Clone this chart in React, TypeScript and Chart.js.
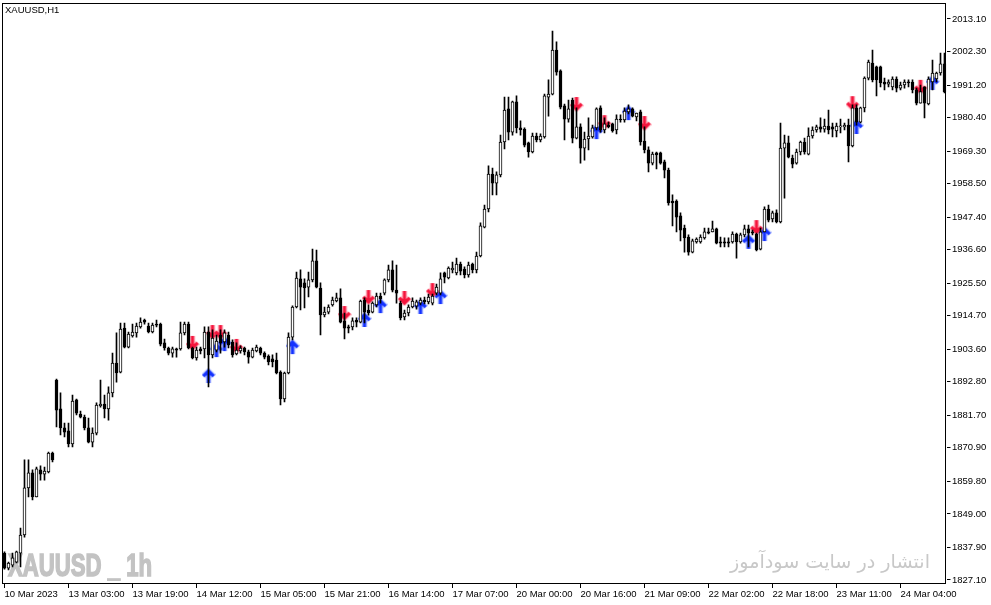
import React, { useEffect, useRef } from 'react';
import { Chart, registerables } from 'chart.js';

Chart.register(...registerables);

// Hourly XAUUSD candles (bar 0 .. 235)
const opens = [
  1836.0, 1831.0, 1832.0, 1833.0, 1836.0, 1842.0, 1857.6, 1862.6, 1854.6, 1863.6,
  1862.2, 1862.9, 1869.2, 1893.4, 1883.8, 1877.5, 1876.5, 1872.2, 1886.8, 1882.1,
  1881.1, 1877.5, 1872.8, 1875.8, 1884.8, 1885.4, 1883.8, 1889.1, 1899.0, 1896.0,
  1910.6, 1904.3, 1908.0, 1909.0, 1911.0, 1913.3, 1911.3, 1909.3, 1911.9, 1911.9,
  1905.7, 1904.0, 1902.3, 1903.7, 1903.7, 1909.0, 1911.9, 1904.0, 1900.7, 1903.7,
  1903.7, 1909.3, 1901.7, 1903.3, 1908.3, 1906.0, 1908.3, 1906.0, 1902.0, 1903.0,
  1904.0, 1902.7, 1901.0, 1903.0, 1904.0, 1902.3, 1901.3, 1900.4, 1900.0, 1896.0,
  1887.1, 1895.7, 1907.6, 1917.6, 1926.9, 1925.6, 1924.2, 1926.6, 1932.9, 1923.9,
  1915.0, 1915.9, 1918.3, 1919.6, 1920.6, 1913.0, 1911.0, 1911.0, 1913.3, 1912.6,
  1919.9, 1916.6, 1915.9, 1918.3, 1921.2, 1922.2, 1926.6, 1929.9, 1923.2, 1918.9,
  1914.3, 1915.6, 1917.6, 1917.9, 1918.9, 1919.9, 1919.3, 1918.9, 1922.2, 1922.2,
  1928.9, 1927.2, 1929.9, 1928.9, 1931.8, 1930.2, 1928.2, 1931.8, 1929.9, 1934.5,
  1944.1, 1950.1, 1961.7, 1958.7, 1961.4, 1972.3, 1983.3, 1975.6, 1985.6, 1977.0,
  1976.6, 1972.0, 1969.0, 1974.3, 1973.0, 1974.0, 1987.2, 1988.2, 2002.8, 1995.9,
  1984.3, 1979.9, 1986.2, 1973.6, 1977.3, 1970.3, 1973.3, 1974.0, 1977.0, 1983.6,
  1976.3, 1977.9, 1978.3, 1976.3, 1979.9, 1979.6, 1982.3, 1983.3, 1980.6, 1982.3,
  1972.6, 1969.7, 1965.3, 1968.7, 1968.7, 1965.7, 1963.0, 1952.7, 1952.7, 1947.8,
  1943.8, 1940.8, 1935.8, 1939.2, 1939.2, 1940.5, 1942.5, 1942.5, 1943.5, 1939.2,
  1939.2, 1939.2, 1939.2, 1941.8, 1939.2, 1941.5, 1943.5, 1942.5, 1941.8, 1936.8,
  1942.5, 1950.1, 1946.8, 1948.8, 1945.8, 1970.3, 1972.0, 1967.0, 1965.3, 1969.0,
  1972.3, 1968.3, 1974.3, 1976.3, 1977.3, 1976.6, 1977.6, 1977.3, 1976.0, 1977.3,
  1977.3, 1977.9, 1971.0, 1983.6, 1978.9, 1983.6, 1993.5, 1998.5, 1997.2, 1997.2,
  1992.2, 1991.5, 1990.6, 1993.2, 1990.2, 1991.2, 1992.2, 1992.2, 1989.6, 1985.2,
  1990.6, 1984.9, 1992.2, 1993.2, 1995.2, 1998.2,
];
const highs = [
  1836.4, 1833.0, 1836.0, 1836.7, 1844.3, 1866.9, 1866.9, 1863.6, 1864.5, 1864.9,
  1864.5, 1869.5, 1869.5, 1893.7, 1889.1, 1879.1, 1879.1, 1888.4, 1887.1, 1883.1,
  1881.8, 1880.8, 1877.5, 1885.8, 1893.4, 1888.4, 1891.1, 1902.3, 1909.0, 1912.3,
  1912.3, 1909.3, 1911.9, 1912.3, 1914.0, 1913.6, 1912.3, 1912.3, 1913.3, 1912.3,
  1907.0, 1904.3, 1904.3, 1904.0, 1912.6, 1912.6, 1912.6, 1904.3, 1904.3, 1904.3,
  1911.0, 1911.0, 1910.0, 1908.3, 1910.0, 1910.0, 1909.3, 1906.7, 1905.7, 1904.7,
  1904.3, 1903.3, 1904.0, 1905.0, 1904.3, 1902.7, 1901.7, 1901.7, 1902.3, 1896.4,
  1896.0, 1909.0, 1918.0, 1929.2, 1929.9, 1926.9, 1929.2, 1936.8, 1936.5, 1925.6,
  1917.6, 1918.3, 1920.9, 1922.2, 1923.6, 1915.6, 1911.6, 1914.0, 1914.0, 1919.9,
  1920.6, 1918.3, 1919.3, 1922.2, 1922.2, 1926.9, 1931.5, 1932.9, 1931.5, 1919.6,
  1916.6, 1918.3, 1920.6, 1919.9, 1920.6, 1920.9, 1921.9, 1921.9, 1925.2, 1928.9,
  1929.2, 1930.9, 1932.5, 1933.8, 1932.5, 1930.9, 1932.5, 1932.2, 1935.8, 1945.5,
  1951.4, 1964.4, 1963.7, 1962.4, 1974.6, 1987.2, 1987.2, 1985.9, 1987.6, 1979.3,
  1977.0, 1972.3, 1975.3, 1975.3, 1975.0, 1988.2, 1992.9, 2009.1, 2005.5, 1996.2,
  1984.9, 1986.2, 1986.9, 1983.6, 1978.3, 1975.6, 1980.3, 1977.9, 1983.6, 1984.3,
  1980.3, 1978.9, 1978.6, 1981.3, 1981.3, 1983.6, 1984.6, 1983.6, 1981.9, 1982.9,
  1977.3, 1970.7, 1969.0, 1969.0, 1969.0, 1966.3, 1963.7, 1954.8, 1953.1, 1948.8,
  1944.8, 1941.5, 1940.1, 1940.5, 1941.5, 1943.8, 1943.8, 1946.1, 1943.8, 1940.8,
  1940.5, 1940.5, 1942.5, 1942.1, 1942.1, 1944.8, 1944.8, 1943.1, 1942.1, 1943.8,
  1950.8, 1951.4, 1949.4, 1949.8, 1978.6, 1974.6, 1974.3, 1968.0, 1970.0, 1972.6,
  1973.6, 1977.0, 1977.3, 1977.9, 1980.3, 1979.9, 1982.9, 1978.6, 1978.6, 1979.9,
  1978.6, 1979.9, 1984.6, 1984.6, 1983.9, 1993.9, 1999.5, 2002.8, 1997.5, 1997.5,
  1993.5, 1992.9, 1993.9, 1993.9, 1992.2, 1992.9, 1992.9, 1992.9, 1990.2, 1991.2,
  1990.6, 1993.9, 1999.5, 1995.5, 2001.8, 2001.8,
];
const lows = [
  1830.7, 1830.4, 1831.4, 1832.7, 1831.4, 1841.3, 1854.6, 1853.6, 1854.6, 1860.2,
  1860.2, 1862.6, 1866.2, 1877.8, 1875.2, 1874.5, 1871.2, 1871.2, 1881.8, 1880.8,
  1876.8, 1872.5, 1871.2, 1875.2, 1884.4, 1880.8, 1880.1, 1887.8, 1892.7, 1895.7,
  1904.0, 1904.0, 1907.6, 1907.6, 1910.6, 1911.9, 1909.0, 1909.0, 1911.0, 1904.7,
  1903.3, 1901.7, 1901.0, 1901.0, 1903.3, 1908.3, 1903.7, 1900.4, 1900.0, 1902.0,
  1900.7, 1891.1, 1900.7, 1902.7, 1902.3, 1904.3, 1904.0, 1901.0, 1901.7, 1902.3,
  1901.7, 1899.0, 1900.7, 1902.7, 1901.7, 1900.4, 1898.4, 1897.7, 1895.4, 1885.1,
  1886.1, 1895.4, 1906.7, 1917.3, 1916.6, 1917.3, 1920.9, 1925.9, 1923.9, 1908.3,
  1914.3, 1915.3, 1917.9, 1919.3, 1912.3, 1907.0, 1909.0, 1910.0, 1911.0, 1912.3,
  1912.3, 1914.9, 1915.6, 1917.6, 1918.9, 1921.6, 1925.9, 1922.6, 1918.9, 1913.3,
  1913.3, 1914.6, 1917.3, 1916.9, 1918.3, 1918.6, 1918.6, 1918.3, 1921.6, 1921.6,
  1925.6, 1926.9, 1928.9, 1928.2, 1928.2, 1927.2, 1927.5, 1928.9, 1928.9, 1934.2,
  1943.8, 1949.1, 1954.8, 1954.8, 1960.7, 1970.0, 1973.0, 1974.6, 1975.3, 1974.6,
  1970.7, 1967.3, 1968.7, 1972.3, 1972.3, 1973.6, 1980.9, 1987.9, 1994.5, 1983.3,
  1973.0, 1978.9, 1972.0, 1973.3, 1965.3, 1966.3, 1969.7, 1973.6, 1976.3, 1975.6,
  1975.3, 1977.0, 1975.6, 1975.0, 1978.9, 1978.9, 1981.6, 1980.6, 1979.3, 1971.3,
  1968.7, 1962.4, 1964.7, 1963.4, 1965.0, 1960.4, 1951.4, 1944.5, 1942.5, 1939.5,
  1935.8, 1934.8, 1935.5, 1938.8, 1938.8, 1940.1, 1941.8, 1942.5, 1938.5, 1937.5,
  1937.5, 1937.5, 1938.8, 1933.8, 1938.8, 1940.8, 1937.5, 1941.5, 1936.2, 1936.5,
  1942.5, 1945.8, 1945.8, 1945.5, 1945.5, 1953.7, 1967.0, 1963.7, 1965.0, 1968.0,
  1968.3, 1968.0, 1973.6, 1975.6, 1975.6, 1975.6, 1975.0, 1974.0, 1974.0, 1975.3,
  1976.3, 1965.7, 1970.7, 1977.9, 1978.6, 1982.3, 1992.9, 1992.2, 1987.6, 1990.6,
  1989.6, 1990.6, 1989.6, 1988.9, 1989.6, 1990.2, 1990.6, 1988.6, 1984.6, 1985.2,
  1980.3, 1984.6, 1989.6, 1992.2, 1994.5, 1988.6,
];
const closes = [
  1831.0, 1832.7, 1834.4, 1836.4, 1842.0, 1857.6, 1862.6, 1854.6, 1863.9, 1862.2,
  1863.2, 1869.2, 1866.9, 1883.4, 1877.5, 1876.1, 1872.2, 1886.4, 1882.4, 1881.1,
  1877.5, 1872.8, 1875.8, 1885.1, 1885.4, 1883.8, 1889.1, 1899.0, 1895.7, 1910.3,
  1904.3, 1908.6, 1909.3, 1911.3, 1912.6, 1912.6, 1909.3, 1911.6, 1911.6, 1905.3,
  1904.0, 1902.3, 1903.7, 1903.3, 1909.0, 1911.9, 1904.0, 1900.7, 1903.3, 1903.0,
  1909.3, 1901.7, 1907.3, 1906.3, 1905.7, 1909.0, 1905.0, 1901.7, 1903.3, 1904.0,
  1902.7, 1901.0, 1903.3, 1904.3, 1902.3, 1901.0, 1899.4, 1899.4, 1895.7, 1887.1,
  1895.7, 1907.6, 1917.6, 1927.2, 1924.2, 1923.9, 1926.6, 1932.9, 1924.2, 1915.0,
  1915.9, 1917.6, 1919.9, 1920.6, 1912.6, 1910.6, 1910.6, 1913.0, 1912.6, 1919.6,
  1915.9, 1915.6, 1918.9, 1921.2, 1920.3, 1926.6, 1929.9, 1923.2, 1922.2, 1914.0,
  1915.6, 1917.6, 1919.6, 1919.3, 1919.9, 1919.3, 1920.9, 1921.2, 1924.2, 1926.9,
  1927.5, 1930.5, 1930.5, 1931.8, 1929.5, 1928.2, 1931.5, 1929.9, 1934.5, 1944.5,
  1950.1, 1961.7, 1958.7, 1961.4, 1972.3, 1982.9, 1975.6, 1985.6, 1977.0, 1976.3,
  1971.3, 1969.0, 1974.3, 1973.0, 1974.3, 1987.6, 1988.2, 2002.8, 1995.5, 1983.9,
  1979.9, 1983.3, 1973.6, 1977.3, 1970.3, 1973.3, 1974.3, 1977.0, 1983.3, 1976.3,
  1978.3, 1977.3, 1976.0, 1979.9, 1979.6, 1982.6, 1983.3, 1980.9, 1981.9, 1972.3,
  1969.7, 1965.3, 1968.3, 1968.0, 1965.3, 1963.0, 1952.1, 1952.1, 1947.4, 1943.1,
  1940.5, 1935.8, 1939.5, 1940.1, 1940.8, 1942.5, 1942.1, 1943.5, 1938.8, 1938.8,
  1938.8, 1938.8, 1941.8, 1939.2, 1941.5, 1943.5, 1942.1, 1942.1, 1936.5, 1942.5,
  1950.1, 1946.4, 1948.8, 1945.8, 1970.3, 1972.0, 1967.3, 1965.0, 1969.0, 1972.3,
  1969.0, 1974.3, 1976.3, 1977.3, 1976.6, 1977.6, 1976.3, 1976.6, 1977.6, 1977.6,
  1977.9, 1971.0, 1983.6, 1978.9, 1983.6, 1993.5, 1998.8, 1992.9, 1992.9, 1991.9,
  1991.5, 1992.2, 1993.2, 1990.2, 1991.2, 1992.2, 1991.9, 1989.6, 1985.2, 1989.0,
  1985.2, 1993.2, 1995.2, 1995.2, 1998.2, 1988.9,
];

// Time-axis labels, one every 16 bars
const xTickLabels = [
  '10 Mar 2023', '13 Mar 03:00', '13 Mar 19:00', '14 Mar 12:00', '15 Mar 05:00',
  '15 Mar 21:00', '16 Mar 14:00', '17 Mar 07:00', '20 Mar 00:00', '20 Mar 16:00',
  '21 Mar 09:00', '22 Mar 02:00', '22 Mar 18:00', '23 Mar 11:00', '24 Mar 04:00',
];
const yTickValues = [
  1827.1, 1837.9, 1849.0, 1859.8, 1870.9, 1881.7, 1892.8, 1903.6, 1914.7,
  1925.5, 1936.6, 1947.4, 1958.5, 1969.3, 1980.4, 1991.2, 2002.3, 2013.1,
];

// Signal arrows
const sellBars = [47, 52, 54, 58, 85, 91, 100, 107, 143, 150, 160, 188, 212, 229];
const sellPrices = [1905.7, 1909.3, 1909.3, 1904.7, 1915.6, 1920.9, 1920.6, 1923.2, 1984.9, 1978.9, 1978.6, 1944.1, 1985.2, 1990.6];
const buyBars = [51, 53, 55, 72, 90, 94, 104, 109, 148, 156, 186, 190, 213, 232];
const buyPrices = [1894.7, 1903.3, 1905.3, 1904.3, 1913.3, 1917.9, 1917.6, 1920.9, 1975.6, 1981.9, 1939.2, 1941.8, 1977.3, 1991.9];

const symbolTitle = 'XAUUSD,H1';
const watermarkLeft = 'XAUUSD _ 1h';
const watermarkRight = 'انتشار در سایت سودآموز';

function makeArrow(up: boolean, color: string, halo: string): HTMLCanvasElement {
  const c = document.createElement('canvas');
  c.width = 14;
  c.height = 16;
  const ctx = c.getContext('2d')!;
  const draw = (w: number, col: string, join: CanvasLineJoin) => {
    ctx.strokeStyle = col;
    ctx.lineWidth = w;
    ctx.lineJoin = join;
    ctx.lineCap = 'butt';
    ctx.beginPath();
    if (up) {
      ctx.moveTo(7, 15);
      ctx.lineTo(7, 3);
      ctx.moveTo(1.8, 8.2);
      ctx.lineTo(7, 3);
      ctx.lineTo(12.2, 8.2);
    } else {
      ctx.moveTo(7, 1);
      ctx.lineTo(7, 13);
      ctx.moveTo(1.8, 7.8);
      ctx.lineTo(7, 13);
      ctx.lineTo(12.2, 7.8);
    }
    ctx.stroke();
  };
  draw(5.5, halo, 'round');
  draw(3.2, color, 'miter');
  return c;
}

const backgroundText = {
  id: 'backgroundText',
  beforeDatasetsDraw(chart: any) {
    const ctx = chart.ctx as CanvasRenderingContext2D;
    ctx.save();
    // left watermark
    ctx.fillStyle = '#c3c3c3';
    ctx.strokeStyle = '#c3c3c3';
    ctx.font = "bold 32px 'Liberation Sans', Arial, sans-serif";
    ctx.textBaseline = 'alphabetic';
    ctx.textAlign = 'left';
    const w1 = ctx.measureText(watermarkLeft).width;
    ctx.translate(8, 576);
    ctx.scale(144 / w1, 1);
    ctx.lineWidth = 1.6;
    ctx.fillText(watermarkLeft, 0, 0);
    ctx.strokeText(watermarkLeft, 0, 0);
    ctx.restore();

    ctx.save();
    ctx.fillStyle = '#c8c8c8';
    ctx.font = "19px 'DejaVu Sans', sans-serif";
    ctx.textBaseline = 'alphabetic';
    ctx.direction = 'rtl';
    ctx.textAlign = 'right';
    const w2 = ctx.measureText(watermarkRight).width;
    ctx.translate(930, 568);
    ctx.scale(200 / w2, 1);
    ctx.fillText(watermarkRight, 0, 0);
    ctx.restore();
  },
  afterDraw(chart: any) {
    const ctx = chart.ctx as CanvasRenderingContext2D;
    const a = chart.chartArea;
    ctx.save();
    ctx.strokeStyle = '#000';
    ctx.lineWidth = 1;
    ctx.strokeRect(Math.floor(a.left) + 0.5, Math.floor(a.top) + 0.5, Math.round(a.right - a.left) - 1, Math.round(a.bottom - a.top) - 1);
    ctx.fillStyle = '#000';
    ctx.font = "9.5px 'Liberation Sans', Arial, sans-serif";
    ctx.textBaseline = 'middle';
    ctx.textAlign = 'left';
    ctx.fillText(symbolTitle, 5, 10);
    ctx.restore();
  },
};

export default function App() {
  const ref = useRef<HTMLCanvasElement>(null);

  useEffect(() => {
    document.body.style.margin = '0';
    Chart.defaults.font.family = "'Liberation Sans', Arial, sans-serif";
    const labels = opens.map((_, i) => String(i));
    const wickData = lows.map((l, i) => [l, highs[i]]);
    const bodyData = opens.map((o, i) => {
      const lo = Math.min(o, closes[i]);
      let hi = Math.max(o, closes[i]);
      if (hi - lo < 0.35) hi = lo + 0.35;
      return [lo, hi];
    });
    const bodyColors = opens.map((o, i) => (closes[i] >= o ? '#ffffff' : '#000000'));
    const sellImg = makeArrow(false, '#f5143c', 'rgba(255,150,165,0.55)');
    const buyImg = makeArrow(true, '#1432ff', 'rgba(140,160,255,0.55)');

    const noPad = (s: any) => {
      s.paddingLeft = 0;
      s.paddingRight = 0;
      s.paddingTop = 0;
      s.paddingBottom = 0;
    };

    const chart = new Chart(ref.current!, {
      type: 'bar',
      data: {
        labels,
        datasets: [
          {
            type: 'line',
            data: sellBars.map((b, k) => ({ x: String(b), y: sellPrices[k] })),
            showLine: false,
            pointStyle: sellImg as any,
            pointRadius: 6,
            clip: 0,
            order: 3,
          } as any,
          {
            type: 'line',
            data: buyBars.map((b, k) => ({ x: String(b), y: buyPrices[k] })),
            showLine: false,
            pointStyle: buyImg as any,
            pointRadius: 6,
            clip: 0,
            order: 3,
          } as any,
          {
            data: wickData as any,
            backgroundColor: '#000000',
            barThickness: 1,
            grouped: false,
            order: 2,
          } as any,
          {
            data: bodyData as any,
            backgroundColor: bodyColors,
            borderColor: '#000000',
            borderWidth: 1,
            borderSkipped: false,
            barThickness: 3,
            grouped: false,
            order: 1,
          } as any,
        ],
      },
      options: {
        animation: false,
        responsive: false,
        maintainAspectRatio: false,
        layout: { autoPadding: false, padding: { left: 2.5, top: 3, right: 0, bottom: 0 } },
        plugins: { legend: { display: false }, tooltip: { enabled: false } },
        scales: {
          x: {
            type: 'category',
            offset: true,
            grid: { display: true, drawOnChartArea: false, drawTicks: true, tickLength: 4, color: '#000', offset: false },
            border: { display: false },
            ticks: {
              autoSkip: false,
              maxRotation: 0,
              minRotation: 0,
              align: 'start',
              padding: 1,
              color: '#000',
              font: { size: 9.5 },
              callback: (v: any) => xTickLabels[Number(v) / 16] ?? '',
            },
            afterBuildTicks: (s: any) => {
              s.ticks = xTickLabels.map((_, k) => ({ value: k * 16 }));
            },
            afterFit: (s: any) => {
              s.height = 21;
              noPad(s);
            },
          } as any,
          y: {
            position: 'right',
            min: 1825.75,
            max: 2018.4,
            grid: { display: true, drawOnChartArea: false, drawTicks: true, tickLength: 4, color: '#000' },
            border: { display: false },
            ticks: {
              color: '#000',
              padding: 1.5,
              font: { size: 9.5 },
              callback: (v: any) => Number(v).toFixed(2),
            },
            afterBuildTicks: (s: any) => {
              s.ticks = yTickValues.map((v) => ({ value: v }));
            },
            afterFit: (s: any) => {
              s.width = 44.5;
              noPad(s);
            },
          } as any,
        },
      },
      plugins: [backgroundText],
    });
    return () => chart.destroy();
  }, []);

  return (
    <div style={{ position: 'relative', width: 991, height: 605, background: '#ffffff' }}>
      <canvas ref={ref} width={991} height={605} style={{ display: 'block' }} />
    </div>
  );
}
